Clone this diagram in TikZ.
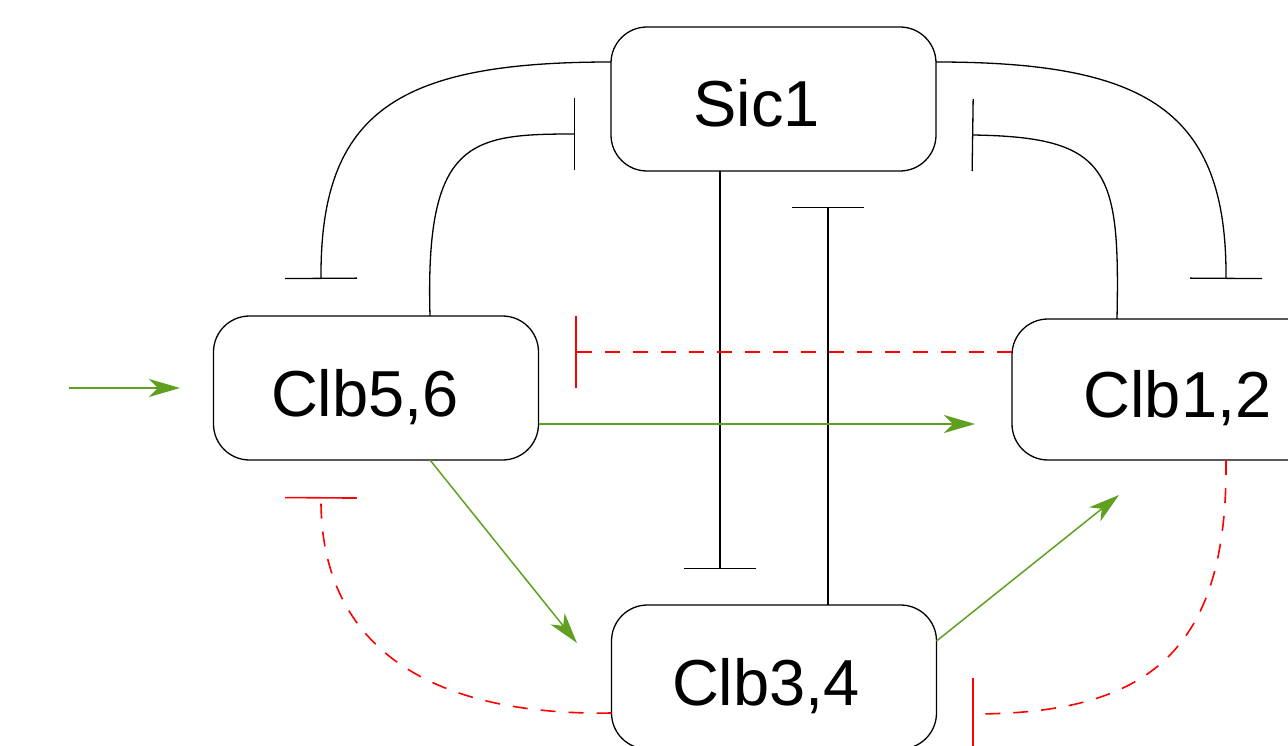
\documentclass[tikz,border=0pt]{standalone}
\usepackage{fontspec}
\setmainfont{Liberation Sans}
\usetikzlibrary{arrows.meta,calc}
\definecolor{actgreen}{RGB}{96,160,32}
\definecolor{inhred}{RGB}{255,0,0}
\tikzset{
  species/.style={draw=black, line width=1.3pt, rounded corners=36pt,
    minimum width=325pt, minimum height=144pt, inner sep=0pt, outer sep=0pt,
    font=\fontsize{65}{78}\selectfont, text height=56pt, text depth=0pt},
  inhibit/.style={draw=black, line width=1.3pt, -{Bar[width=72pt]}},
  inhibitdash/.style={draw=inhred, line width=1.6pt,
    dash pattern=on 15pt off 13pt, -{Bar[width=72pt]}},
  activate/.style={draw=actgreen, line width=1.5pt,
    -{Stealth[length=31pt,width=18pt,inset=9pt]}},
}
% moves a label sideways inside its box by half the given amount
\newcommand{\labelnudge}[1]{\hspace*{#1}}
\begin{document}
\begin{tikzpicture}[x=1pt, y=-1pt]
\useasboundingbox (0,0) rectangle (1288,746);

% species boxes
\node[species] (sic) at (773.5,99)  {\labelnudge{-34pt}Sic1};
\node[species] (c56) at (376,388)   {\labelnudge{-22pt}Clb5,6};
\node[species, minimum height=141pt] (c12) at (1174.5,389.5) {\labelnudge{6pt}Clb1,2};
\node[species] (c34) at (774,677)   {\labelnudge{-16pt}Clb3,4};

% ends of the inhibitions and activations
\coordinate (b1) at (321,279);
\coordinate (b2) at (575,134);
\coordinate (b3) at (1226,279);
\coordinate (b4) at (972,135);
\coordinate (b5) at (720,569);
\coordinate (b6) at (828,207);
\coordinate (b7) at (575,352);
\coordinate (b8) at (321,497);
\coordinate (b9) at (972,714);
\coordinate (t1) at (975,424);
\coordinate (t2) at (577,643);
\coordinate (t3) at (1119,495);
\coordinate (in0) at (69,388);
\coordinate (in1) at (180,388);

% Sic1 <-> Clb5,6
\draw[inhibit] ($(sic.west)+(0,-37)$) .. controls (400,62) and (320,110) .. (b1);
\draw[inhibit] ($(c56.north)+(54,0)$) .. controls (425,140) and (470,134) .. (b2);

% Sic1 <-> Clb1,2
\draw[inhibit] ($(sic.east)+(0,-37)$) .. controls (1146,62) and (1227,110) .. (b3);
\draw[inhibit] ($(c12.north)+(-57.5,0)$) .. controls (1120,170) and (1110,137) .. (b4);

% Sic1 <-> Clb3,4
\draw[inhibit] ($(sic.south)+(-53.5,0)$) -- (b5);
\draw[inhibit] ($(c34.north)+(54,0)$) -- (b6);

% feedback inhibitions (dashed)
\draw[inhibitdash] ($(c12.west)+(0,-37.5)$) -- (b7);
\draw[inhibitdash] ($(c34.west)+(0,36)$) .. controls (420,716) and (320,640) .. (b8);
\draw[inhibitdash] ($(c12.south)+(51.5,0)$) .. controls (1228,650) and (1150,714) .. (b9);

% activations
\draw[activate] (in0) -- (in1);
\draw[activate] ($(c56.east)+(0,36)$) -- (t1);
\draw[activate] ($(c56.south)+(54,0)$) -- (t2);
\draw[activate] ($(c34.east)+(0,-36)$) -- (t3);
\end{tikzpicture}
\end{document}
